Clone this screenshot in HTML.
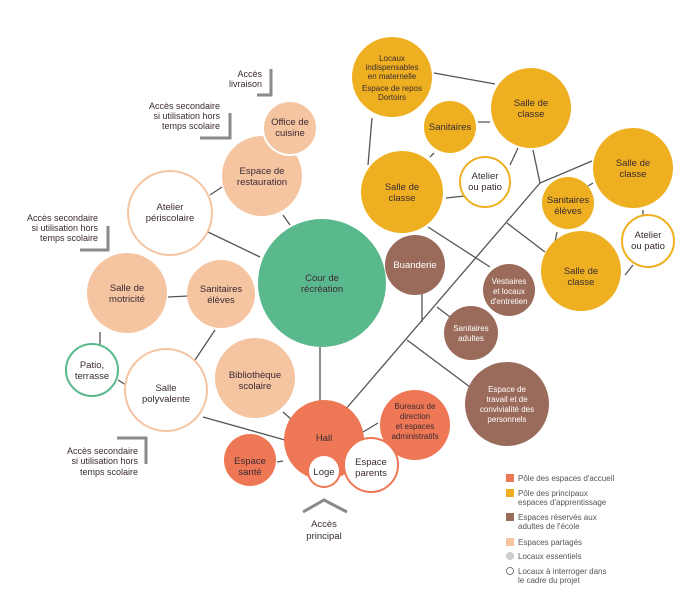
<!DOCTYPE html>
<html><head><meta charset="utf-8"><style>
body{margin:0;background:#fff}
svg{display:block}
text{font-family:"Liberation Sans",sans-serif;fill:#3a2a33;text-anchor:middle}
.s{font-size:9.5px}
.l{font-size:8px;text-anchor:start;fill:#555}
.w{fill:#fff}
</style></head><body>
<svg width="699" height="611" viewBox="0 0 699 611">
<g stroke="#555" stroke-width="1.3" fill="none">
<path d="M345 410 L540 183 L592 161 M540 183 L533 150 M507 223 L545 252 M428 227 L490 267 M437 307 L450 317 M422 293 L422 322 M407 340 L470 387"/>
<path d="M434 73 L495 84 M372 118 L368 165 M478 122 L490 122 M434 153 L430 157 M446 198 L465 196 M510 165 L518 148 M588 186 L593 183 M557 232 L555 242 M643 210 L643 215 M633 265 L625 275"/>
<path d="M210 195 L222 187 M208 232 L260 257 M283 215 L290 225 M168 297 L188 296 M100 332 L100 345 M118 380 L126 385 M195 360 L215 330 M203 417 L285 440 M283 412 L292 420 M320 347 L320 405 M277 462 L283 461 M363 432 L378 423"/>
</g>
<g stroke="#8a8a8a" stroke-width="3" fill="none">
<path d="M271 69 V95 H257 M230 113 V138 H200 M108 226 V250 H80 M117 438 H146 V464 M303 512 L324 500 L347 512"/>
</g>
<!-- peach -->
<g fill="#F5C4A1">
<circle cx="262" cy="176" r="40"/><circle cx="290" cy="128" r="27" stroke="#fff" stroke-width="2"/>
<circle cx="127" cy="293" r="40"/><circle cx="221" cy="294" r="34"/><circle cx="255" cy="378" r="40"/>
</g>
<circle cx="170" cy="213" r="42" fill="#fff" stroke="#F5C4A1" stroke-width="2"/>
<circle cx="166" cy="390" r="41" fill="#fff" stroke="#F5C4A1" stroke-width="2"/>
<circle cx="92" cy="370" r="26" fill="#fff" stroke="#5AB98C" stroke-width="2"/>
<circle cx="322" cy="283" r="64" fill="#5AB98C"/>
<g fill="#EE7755">
<circle cx="324" cy="440" r="40"/><circle cx="250" cy="460" r="26"/><circle cx="415" cy="425" r="35"/>
</g>
<circle cx="324" cy="471" r="16" fill="#fff" stroke="#EE7755" stroke-width="2"/>
<circle cx="371" cy="465" r="27" fill="#fff" stroke="#EE7755" stroke-width="2"/>
<g fill="#EEB020">
<circle cx="392" cy="77" r="40"/><circle cx="450" cy="127" r="26"/><circle cx="531" cy="108" r="40"/><circle cx="402" cy="192" r="41"/>
<circle cx="633" cy="168" r="40"/><circle cx="568" cy="203" r="26"/><circle cx="581" cy="271" r="40"/>
</g>
<circle cx="485" cy="182" r="25" fill="#fff" stroke="#EEB020" stroke-width="2"/>
<circle cx="648" cy="241" r="26" fill="#fff" stroke="#EEB020" stroke-width="2"/>
<g fill="#9A6A5A">
<circle cx="415" cy="265" r="30"/><circle cx="509" cy="290" r="26"/><circle cx="471" cy="333" r="27"/><circle cx="507" cy="404" r="42"/>
</g>
<g class="s">
<text x="290" y="125">Office de</text><text x="290" y="136">cuisine</text>
<text x="262" y="174">Espace de</text><text x="262" y="185">restauration</text>
<text x="170" y="210">Atelier</text><text x="170" y="221">périscolaire</text>
<text x="322" y="281">Cour de</text><text x="322" y="292">récréation</text>
<text x="127" y="291">Salle de</text><text x="127" y="302">motricité</text>
<text x="221" y="292">Sanitaires</text><text x="221" y="303">élèves</text>
<text x="92" y="368">Patio,</text><text x="92" y="379">terrasse</text>
<text x="166" y="391">Salle</text><text x="166" y="402">polyvalente</text>
<text x="255" y="378">Bibliothèque</text><text x="255" y="389">scolaire</text>
<text x="324" y="441">Hall</text><text x="324" y="475">Loge</text>
<text x="371" y="465">Espace</text><text x="371" y="476">parents</text>
<text x="250" y="464">Espace</text><text x="250" y="475">santé</text>
<text x="531" y="106">Salle de</text><text x="531" y="117">classe</text>
<text x="402" y="190">Salle de</text><text x="402" y="201">classe</text>
<text x="633" y="166">Salle de</text><text x="633" y="177">classe</text>
<text x="581" y="274">Salle de</text><text x="581" y="285">classe</text>
<text x="450" y="130">Sanitaires</text>
<text x="568" y="203">Sanitaires</text><text x="568" y="214">élèves</text>
<text x="485" y="179">Atelier</text><text x="485" y="190">ou patio</text>
<text x="648" y="238">Atelier</text><text x="648" y="249">ou patio</text>
<text x="415" y="268" class="w">Buanderie</text>
<text x="324" y="527">Accès</text><text x="324" y="539">principal</text>
</g>
<g style="font-size:8px">
<text x="392" y="61">Locaux</text><text x="392" y="70">indispensables</text><text x="392" y="79">en maternelle</text><text x="392" y="91">Espace de repos</text><text x="392" y="100">Dortoirs</text>
<text x="415" y="409">Bureaux de</text><text x="415" y="419">direction</text><text x="415" y="429">et espaces</text><text x="415" y="439">administratifs</text>
<text x="509" y="284" class="w">Vestiaires</text><text x="509" y="294" class="w">et locaux</text><text x="509" y="304" class="w">d'entretien</text>
<text x="471" y="331" class="w">Sanitaires</text><text x="471" y="341" class="w">adultes</text>
<text x="507" y="392" class="w">Espace de</text><text x="507" y="402" class="w">travail et de</text><text x="507" y="412" class="w">convivialité des</text><text x="507" y="422" class="w">personnels</text>
</g>
<g style="font-size:9px;text-anchor:end">
<text x="262" y="77" style="text-anchor:end">Accès</text><text x="262" y="87" style="text-anchor:end">livraison</text>
<text x="220" y="109" style="text-anchor:end">Accès secondaire</text><text x="220" y="119" style="text-anchor:end">si utilisation hors</text><text x="220" y="129" style="text-anchor:end">temps scolaire</text>
<text x="98" y="221" style="text-anchor:end">Accès secondaire</text><text x="98" y="231" style="text-anchor:end">si utilisation hors</text><text x="98" y="241" style="text-anchor:end">temps scolaire</text>
<text x="138" y="454" style="text-anchor:end">Accès secondaire</text><text x="138" y="464" style="text-anchor:end">si utilisation hors</text><text x="138" y="475" style="text-anchor:end">temps scolaire</text>
</g>
<rect x="506" y="474" width="8" height="8" fill="#EE7755"/>
<rect x="506" y="489" width="8" height="8" fill="#EEB020"/>
<rect x="506" y="513" width="8" height="8" fill="#9A6A5A"/>
<rect x="506" y="538" width="8" height="8" fill="#F5C4A1"/>
<circle cx="510" cy="556" r="4" fill="#ccc"/>
<circle cx="510" cy="571" r="3.5" fill="#fff" stroke="#555" stroke-width="0.8"/>
<text class="l" x="518" y="481">Pôle des espaces d'accueil</text>
<text class="l" x="518" y="496">Pôle des principaux</text><text class="l" x="518" y="505">espaces d'apprentissage</text>
<text class="l" x="518" y="520">Espaces réservés aux</text><text class="l" x="518" y="529">adultes de l'école</text>
<text class="l" x="518" y="545">Espaces partagés</text>
<text class="l" x="518" y="559">Locaux essentiels</text>
<text class="l" x="518" y="574">Locaux à interroger dans</text><text class="l" x="518" y="583">le cadre du projet</text>
</svg>
</body></html>
